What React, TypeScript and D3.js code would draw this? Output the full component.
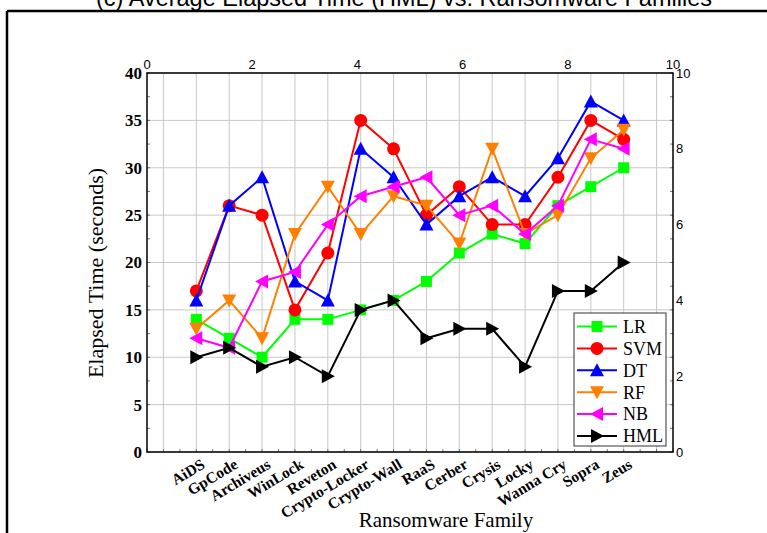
import React from "react";
import * as d3 from "d3";

const categories = ["AiDS", "GpCode", "Archiveus", "WinLock", "Reveton", "Crypto-Locker", "Crypto-Wall", "RaaS", "Cerber", "Crysis", "Locky", "Wanna Cry", "Sopra", "Zeus"];
const lrValues = [14, 12, 10, 14, 14, 15, 16, 18, 21, 23, 22, 26, 28, 30];
const svmValues = [17, 26, 25, 15, 21, 35, 32, 25, 28, 24, 24, 29, 35, 33];
const dtValues = [16, 26, 29, 18, 16, 32, 29, 24, 27, 29, 27, 31, 37, 35];
const rfValues = [13, 16, 12, 23, 28, 23, 27, 26, 22, 32, 23, 25, 31, 34];
const nbValues = [12, 11, 18, 19, 24, 27, 28, 29, 25, 26, 23, 26, 33, 32];
const hmlValues = [10, 11, 9, 10, 8, 15, 16, 12, 13, 13, 9, 17, 17, 20];
const leftTicks = [0, 5, 10, 15, 20, 25, 30, 35, 40];
const auxTicks = [0, 2, 4, 6, 8, 10];

const series = [
  { name: "LR", values: lrValues, color: "#00ff00", marker: "square" },
  { name: "SVM", values: svmValues, color: "#ff0000", marker: "circle" },
  { name: "DT", values: dtValues, color: "#0000ff", marker: "up" },
  { name: "RF", values: rfValues, color: "#ff8000", marker: "down" },
  { name: "NB", values: nbValues, color: "#ff00ff", marker: "left" },
  { name: "HML", values: hmlValues, color: "#000000", marker: "right" },
];

const L = 147, R = 673, T = 73, B = 452;

function Marker({ type, x, y, color }: { type: string; x: number; y: number; color: string }) {
  const s = 7;
  if (type === "square") return <rect x={x - 5.5} y={y - 5.5} width={11} height={11} fill={color} />;
  if (type === "circle") return <circle cx={x} cy={y} r={6.5} fill={color} />;
  let pts: [number, number][] = [];
  if (type === "up") pts = [[x, y - s], [x + s, y + 6], [x - s, y + 6]];
  if (type === "down") pts = [[x, y + s], [x + s, y - 6], [x - s, y - 6]];
  if (type === "left") pts = [[x - s, y], [x + 6, y - s], [x + 6, y + s]];
  if (type === "right") pts = [[x + s, y], [x - 6, y - s], [x - 6, y + s]];
  return <polygon points={pts.map((p) => p.join(",")).join(" ")} fill={color} />;
}

export default function App() {
  const x = d3.scaleLinear().domain([-0.5, 15.5]).range([L, R]);
  const y = d3.scaleLinear().domain([0, 40]).range([B, T]);
  const xTop = d3.scaleLinear().domain([0, 10]).range([L, R]);
  const yRight = d3.scaleLinear().domain([0, 10]).range([B, T]);
  const line = d3.line<number>().x((_, i) => x(i + 1)).y((d) => y(d));
  const gridX = d3.range(0, 16);
  const minorX = d3.range(-0.5, 15.6, 0.5);
  const minorY = d3.range(0, 40.1, 2.5);
  const serif = "'Liberation Serif', 'Times New Roman', serif";
  const sans = "'Liberation Sans', Arial, sans-serif";
  return (
    <svg width={767} height={533} style={{ position: "absolute", left: 0, top: 0 }}>
      <rect x={0} y={0} width={767} height={533} fill="#fff" />
      <text x={404} y={6} textAnchor="middle" fontFamily={sans} fontSize={23.5} fill="#000">(c) Average Elapsed Time (HML) vs. Ransomware Families</text>
      <line x1={7} y1={11} x2={767} y2={11} stroke="#000" strokeWidth={2.5} />
      <line x1={7} y1={11} x2={7} y2={533} stroke="#000" strokeWidth={2.5} />
      {gridX.map((g) => (
        <line key={"gx" + g} x1={x(g)} x2={x(g)} y1={T} y2={B} stroke="#c8c8c8" strokeWidth={1} />
      ))}
      {leftTicks.map((t) => (
        <line key={"gy" + t} x1={L} x2={R} y1={y(t)} y2={y(t)} stroke="#c8c8c8" strokeWidth={1} />
      ))}
      {minorX.map((t) => (
        <line key={"mx" + t} x1={x(t)} x2={x(t)} y1={B} y2={B - 3} stroke="#555" strokeWidth={0.8} />
      ))}
      {minorY.map((t) => (
        <g key={"my" + t}>
          <line x1={L} x2={L + 3} y1={y(t)} y2={y(t)} stroke="#555" strokeWidth={0.8} />
          <line x1={R} x2={R - 3} y1={y(t)} y2={y(t)} stroke="#555" strokeWidth={0.8} />
        </g>
      ))}
      <rect x={L} y={T} width={R - L} height={B - T} fill="none" stroke="#000" strokeWidth={1.5} />
      {leftTicks.map((t) => (
        <text key={"ly" + t} x={L - 5} y={y(t)} dy="0.35em" textAnchor="end" fontFamily={serif} fontWeight="bold" fontSize={17}>{t}</text>
      ))}
      {auxTicks.map((t) => (
        <text key={"tx" + t} x={xTop(t)} y={69} textAnchor="middle" fontFamily={sans} fontSize={13}>{t}</text>
      ))}
      {auxTicks.map((t) => (
        <text key={"ry" + t} x={R + 3} y={yRight(t)} dy="0.35em" textAnchor="start" fontFamily={sans} fontSize={13}>{t}</text>
      ))}
      {categories.map((c, i) => (
        <text key={c} transform={`translate(${x(i + 1) + 4},${B + 6}) rotate(-31)`} textAnchor="end" dy="0.7em" fontFamily={serif} fontWeight="bold" fontSize={15.5}>{c}</text>
      ))}
      <text x={446} y={527} textAnchor="middle" fontFamily={serif} fontSize={21}>Ransomware Family</text>
      <text transform={`translate(103,273) rotate(-90)`} textAnchor="middle" fontFamily={serif} fontSize={22}>Elapsed Time (seconds)</text>
      {series.map((s) => (
        <g key={s.name}>
          <path d={line(s.values) || ""} fill="none" stroke={s.color} strokeWidth={2} />
          {s.values.map((v, i) => (
            <Marker key={i} type={s.marker} x={x(i + 1)} y={y(v)} color={s.color} />
          ))}
        </g>
      ))}
      <rect x={574} y={313} width={92} height={133} fill="#fff" stroke="#333" strokeWidth={1} />
      {series.map((s, i) => {
        const ly = 326.5 + i * 21.9;
        return (
          <g key={"lg" + s.name}>
            <line x1={577} x2={617} y1={ly} y2={ly} stroke={s.color} strokeWidth={2} />
            <Marker type={s.marker} x={597} y={ly} color={s.color} />
            <text x={623} y={ly} dy="0.35em" fontFamily={serif} fontSize={18}>{s.name}</text>
          </g>
        );
      })}
    </svg>
  );
}
